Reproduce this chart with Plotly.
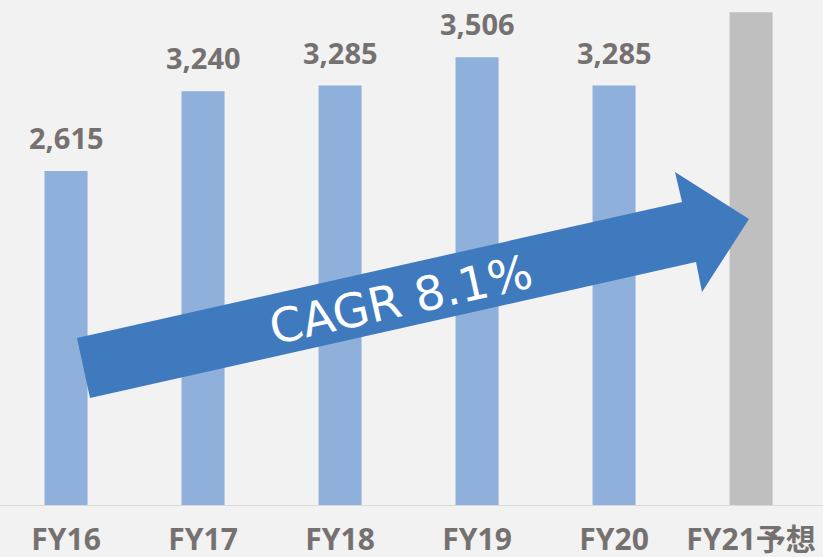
import plotly.graph_objects as go

# Data
categories = ["FY16", "FY17", "FY18", "FY19", "FY20", "FY21予想"]
values = [2615, 3240, 3285, 3506, 3285, 3860]
show_label = [True, True, True, True, True, False]
bar_colors = ["#8eb0da"] * 5 + ["#bfbfbf"]
cagr_text = "CAGR 8.1%"

W, H = 823, 557
MB = 52
PH = H - MB

fig = go.Figure()
fig.add_trace(go.Bar(
    x=categories, y=values, marker=dict(color=bar_colors, line=dict(width=0)),
    width=0.314, hoverinfo="skip",
))

label_font = dict(family="Open Sans, Noto Sans CJK JP", size=29, color="#767171", weight="bold")
tick_font = dict(family="Open Sans, Noto Sans CJK JP", size=30, color="#767171", weight="bold")
for c, v, s in zip(categories, values, show_label):
    if s:
        fig.add_annotation(x=c, y=v, text=f"{v:,}", showarrow=False,
                           yanchor="bottom", yshift=12, font=label_font)

# Arrow (decoration) in pixel coordinates of the figure -> paper
def P(px, py):
    return px / W, (PH - py) / PH

pts = [(77, 338), (682, 202), (675, 172), (749, 219), (702, 292), (696, 262), (90, 398)]
path = ""
for i, (px, py) in enumerate(pts):
    x, y = P(px, py)
    path += ("M" if i == 0 else "L") + f"{x:.5f},{y:.5f} "
path += "Z"
fig.add_shape(type="path", path=path, xref="paper", yref="paper",
              fillcolor="#3f7abf", line=dict(width=0), layer="above")

cx, cy = P(401, 299)
fig.add_annotation(x=cx, y=cy, xref="paper", yref="paper", text=cagr_text,
                   showarrow=False, textangle=-12.5, xanchor="center", yanchor="middle",
                   font=dict(family="DejaVu Sans", size=47, color="white"))

fig.update_layout(
    width=W, height=H,
    margin=dict(l=0, r=0, t=0, b=MB),
    paper_bgcolor="#f2f2f2", plot_bgcolor="#f2f2f2",
    showlegend=False,
    xaxis=dict(range=[-0.482, 5.525], showgrid=False, showline=True, linecolor="#d9d9d9",
               linewidth=1, ticks="", tickfont=tick_font, ticklabelstandoff=8,
               automargin=False, fixedrange=True),
    yaxis=dict(range=[0, 3955], visible=False, showgrid=False, zeroline=False,
               automargin=False, fixedrange=True),
)

fig.write_html("out.html")
